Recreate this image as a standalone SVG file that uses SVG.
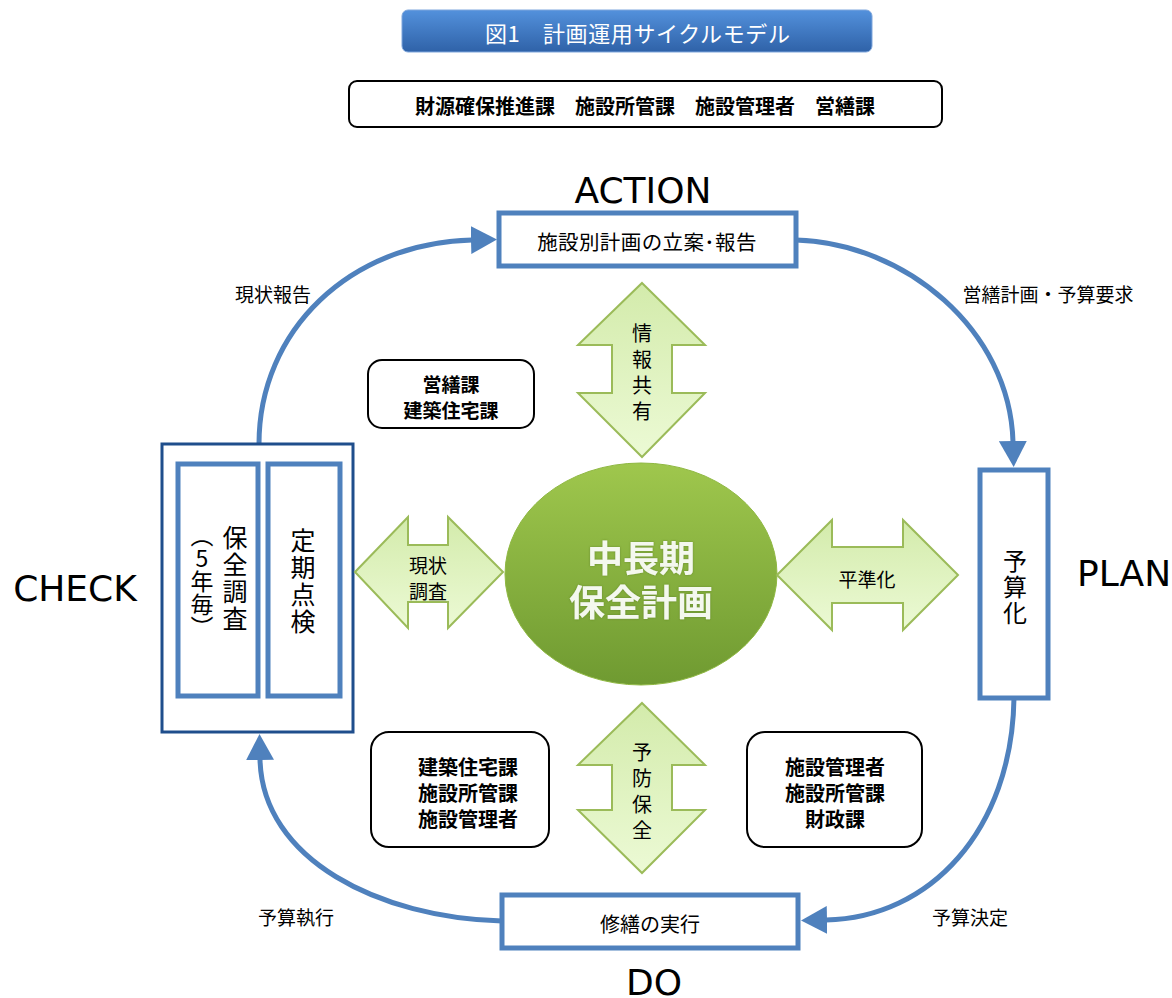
<svg xmlns="http://www.w3.org/2000/svg" width="1172" height="998" viewBox="0 0 1172 998">
<style>
.jp{font-family:"Noto Sans CJK JP","Noto Sans",sans-serif;fill:#000}
.b{font-weight:bold}
.lat{font-family:"DejaVu Sans","Liberation Sans",sans-serif;font-size:36px;fill:#000}
.bl{fill:#fff;stroke:#4f81bd;stroke-width:5}
.rb{fill:#fff;stroke:#000;stroke-width:2}
.ga{fill:url(#ga);stroke:#9bbb59;stroke-width:2}
.con{fill:none;stroke:#4f81bd;stroke-width:5;marker-end:url(#ah)}
.vt{writing-mode:vertical-rl;text-orientation:upright}
</style>
<defs>
<linearGradient id="tg" x1="0" y1="0" x2="0" y2="1"><stop offset="0" stop-color="#5391dc"/><stop offset="1" stop-color="#2f62a8"/></linearGradient>
<linearGradient id="eg" x1="0" y1="0" x2="0" y2="1"><stop offset="0" stop-color="#9fc74d"/><stop offset="1" stop-color="#6f9a31"/></linearGradient>
<linearGradient id="ga" x1="0" y1="0" x2="0" y2="1"><stop offset="0" stop-color="#d3ebab"/><stop offset="1" stop-color="#ecfad5"/></linearGradient>
<filter id="glow" x="-20%" y="-30%" width="140%" height="160%">
<feGaussianBlur in="SourceAlpha" stdDeviation="1.3" result="bl"/>
<feFlood flood-color="#4d6b20" flood-opacity="0.55"/>
<feComposite in2="bl" operator="in" result="sh"/>
<feMerge><feMergeNode in="sh"/><feMergeNode in="SourceGraphic"/></feMerge>
</filter>
<marker id="ah" markerUnits="userSpaceOnUse" markerWidth="26" markerHeight="28" refX="1" refY="14" orient="auto"><path d="M0,0 L26,14 L0,28 z" fill="#4f81bd"/></marker>
</defs>
<rect width="1172" height="998" fill="#fff"/>

<g id="title">
<rect x="402" y="10" width="470" height="42" rx="6" fill="url(#tg)" stroke="#7ea6dc" stroke-width="1"/>
<text x="485" y="32" class="jp" font-size="22" letter-spacing="0.6" style="fill:#fff" dominant-baseline="central">図1　計画運用サイクルモデル</text>
</g>

<g id="orgs">
<rect x="349" y="81" width="593" height="46" rx="8" class="rb"/>
<text x="645" y="105" class="jp b" font-size="20" text-anchor="middle" dominant-baseline="central">財源確保推進課　施設所管課　施設管理者　営繕課</text>
</g>

<g id="connectors">
<path class="con" d="M259,444 C259,330 350,243 472,240"/>
<path class="con" d="M796,240 C905,243 1010,330 1013,442"/>
<path class="con" d="M1014,698 C1012,830 930,918 826,920"/>
<path class="con" d="M502,921 C380,918 262,860 260,759"/>
</g>

<g id="labels">
<text x="273" y="293" class="jp" font-size="19" text-anchor="middle" dominant-baseline="central">現状報告</text>
<text x="1048" y="293" class="jp" font-size="19" text-anchor="middle" dominant-baseline="central">営繕計画・予算要求</text>
<text x="296" y="916" class="jp" font-size="19" text-anchor="middle" dominant-baseline="central">予算執行</text>
<text x="970" y="916" class="jp" font-size="19" text-anchor="middle" dominant-baseline="central">予算決定</text>
</g>

<g id="action">
<text x="643" y="203" class="lat" text-anchor="middle">ACTION</text>
<rect x="499" y="213" width="297" height="53" class="bl"/>
<text x="647" y="241" class="jp" font-size="20.5" letter-spacing="0.4" text-anchor="middle" dominant-baseline="central">施設別計画の立案･報告</text>
</g>

<g id="plan">
<text x="1124" y="586" class="lat" text-anchor="middle">PLAN</text>
<rect x="980" y="470" width="68" height="228" class="bl"/>
<text x="1015" y="549" class="jp vt" font-size="24" letter-spacing="2">予算化</text>
</g>

<g id="do">
<text x="654" y="995" class="lat" text-anchor="middle">DO</text>
<rect x="502" y="895" width="296" height="53" class="bl"/>
<text x="650" y="923" class="jp" font-size="20" text-anchor="middle" dominant-baseline="central">修繕の実行</text>
</g>

<g id="check">
<text x="75" y="601" class="lat" text-anchor="middle">CHECK</text>
<rect x="162" y="444" width="191" height="288" fill="#fff" stroke="#1f4e8c" stroke-width="3"/>
<rect x="178" y="464" width="80" height="232" class="bl"/>
<rect x="268" y="464" width="72" height="232" class="bl"/>
<text x="235" y="525" class="jp vt" font-size="25" letter-spacing="2">保全調査</text>
<text x="202" y="524" class="jp vt" font-size="23">（5年毎）</text>
<text x="303" y="528" class="jp vt" font-size="25" letter-spacing="2">定期点検</text>
</g>

<g id="center">
<ellipse cx="641" cy="574" rx="136" ry="111" fill="url(#eg)" stroke="#8fb842" stroke-width="1"/>
<text class="jp b" font-size="36" text-anchor="middle" dominant-baseline="central" style="fill:#f4f8ee" filter="url(#glow)"><tspan x="641" y="556">中長期</tspan><tspan x="641" y="600">保全計画</tspan></text>
</g>

<g id="info-share">
<path class="ga" d="M642,283 L705,345 L672,345 L672,393 L705,393 L642,457 L578,393 L612,393 L612,345 L578,345 Z"/>
<text x="642" y="323" class="jp vt" font-size="20" letter-spacing="6">情報共有</text>
</g>

<g id="preventive">
<path class="ga" d="M642,703 L705,765 L672,765 L672,810 L705,810 L642,873 L578,810 L612,810 L612,765 L578,765 Z"/>
<text x="642" y="742" class="jp vt" font-size="20" letter-spacing="6">予防保全</text>
</g>

<g id="survey">
<path class="ga" d="M355,572 L408,517 L408,545 L448,545 L448,517 L503,572 L448,628 L448,602 L408,602 L408,628 Z"/>
<text class="jp" font-size="19" text-anchor="middle" dominant-baseline="central"><tspan x="428" y="564">現状</tspan><tspan x="428" y="590">調査</tspan></text>
</g>

<g id="leveling">
<path class="ga" d="M777,575 L832,520 L832,547 L903,547 L903,520 L958,575 L903,630 L903,603 L832,603 L832,630 Z"/>
<text x="867" y="578" class="jp" font-size="19" text-anchor="middle" dominant-baseline="central">平準化</text>
</g>

<g id="box-eizen">
<rect x="368" y="360" width="166" height="68" rx="14" class="rb"/>
<text class="jp b" font-size="19" text-anchor="middle" dominant-baseline="central"><tspan x="451" y="383">営繕課</tspan><tspan x="451" y="409">建築住宅課</tspan></text>
</g>

<g id="box-left">
<rect x="371" y="732" width="178" height="115" rx="18" class="rb"/>
<text class="jp b" font-size="20" text-anchor="middle" dominant-baseline="central"><tspan x="468" y="766">建築住宅課</tspan><tspan x="468" y="792">施設所管課</tspan><tspan x="468" y="818">施設管理者</tspan></text>
</g>

<g id="box-right">
<rect x="747" y="732" width="175" height="115" rx="18" class="rb"/>
<text class="jp b" font-size="20" text-anchor="middle" dominant-baseline="central"><tspan x="835" y="766">施設管理者</tspan><tspan x="835" y="792">施設所管課</tspan><tspan x="835" y="818">財政課</tspan></text>
</g>
</svg>
